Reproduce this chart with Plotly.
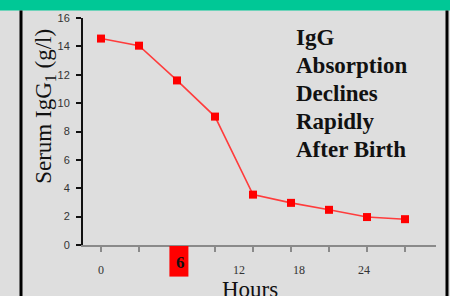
import plotly.graph_objects as go

# Data
sample_index = [0, 1, 2, 3, 4, 5, 6, 7, 8]
serum_igg1 = [14.55, 14.05, 11.6, 9.05, 3.55, 2.97, 2.48, 1.97, 1.82]
hour_labels = ["0", "12", "18", "24"]
hour_label_pos = [0.0, 3.62, 5.22, 6.92]
highlight_label = "6"
highlight_pos = 2.08
y_ticks = [0, 2, 4, 6, 8, 10, 12, 14, 16]
callout_lines = ["IgG", "Absorption", "Declines", "Rapidly", "After Birth"]

W, H = 450, 296
L, R, T, B = 83, 14, 15, 51
pw, ph = W - L - R, H - T - B

def px_x(px):
    return (px - L) / pw

def px_y(py):
    return (H - B - py) / ph

BG = "#dedede"
SERIF = "Liberation Serif, Times New Roman"

fig = go.Figure()
fig.add_trace(go.Scatter(
    x=sample_index, y=serum_igg1, mode="lines+markers",
    line=dict(color="#ff3c3c", width=1.6),
    marker=dict(symbol="square", size=8, color="#ff0000"),
    showlegend=False, hoverinfo="skip"))

fig.update_layout(
    width=W, height=H,
    margin=dict(l=L, r=R, t=T, b=B),
    paper_bgcolor=BG, plot_bgcolor=BG,
    xaxis=dict(range=[-0.474, 8.816], showgrid=False, zeroline=False,
               showline=True, linecolor="#8a8a8a", linewidth=2,
               tickvals=sample_index, ticks="outside", ticklen=5,
               tickwidth=2, tickcolor="#8a8a8a", showticklabels=False),
    yaxis=dict(range=[0, 16], showgrid=False, zeroline=False,
               showline=True, linecolor="#111111", linewidth=2,
               tickvals=y_ticks, ticks="outside", ticklen=5, tickwidth=2,
               tickcolor="#111111", ticklabelstandoff=4,
               tickfont=dict(family="Liberation Sans, Arial", size=11, color="#333333")),
)

shapes = []
shapes.append(dict(type="rect", xref="paper", yref="paper",
                   x0=px_x(-5), x1=px_x(W + 5), y0=px_y(7.5), y1=px_y(-5),
                   fillcolor="#00c896", line=dict(width=0), layer="above"))
for xp in (21, 447):
    shapes.append(dict(type="line", xref="paper", yref="paper",
                       x0=px_x(xp), x1=px_x(xp), y0=px_y(7.5), y1=px_y(H + 5),
                       line=dict(color="#000000", width=3)))
shapes.append(dict(type="rect", xref="x", yref="paper",
                   x0=highlight_pos - 0.28, x1=highlight_pos + 0.22,
                   y0=px_y(277), y1=px_y(246),
                   fillcolor="#ff0000", line=dict(width=0)))
fig.update_layout(shapes=shapes)

ann = []
for lab, pos in zip(hour_labels, hour_label_pos):
    ann.append(dict(x=pos, y=px_y(270), xref="x", yref="paper", text=lab,
                    showarrow=False, xanchor="center", yanchor="middle",
                    font=dict(family=SERIF, size=12, color="#333333")))
ann.append(dict(x=highlight_pos, y=px_y(263), xref="x", yref="paper",
                text="<b>" + highlight_label + "</b>", showarrow=False,
                xanchor="center", yanchor="middle",
                font=dict(family=SERIF, size=17, color="#111111")))
ann.append(dict(x=px_x(250), y=px_y(275), xref="paper", yref="paper",
                text="Hours", showarrow=False, xanchor="center", yanchor="top",
                font=dict(family=SERIF, size=23, color="#111111")))
ann.append(dict(x=px_x(45), y=px_y(105), xref="paper", yref="paper",
                text="Serum IgG<sub>1</sub> (g/l)", textangle=-90, showarrow=False,
                xanchor="center", yanchor="middle",
                font=dict(family=SERIF, size=23, color="#111111")))
for i, line in enumerate(callout_lines):
    ann.append(dict(x=px_x(294), y=px_y(35 + i * 28.2), xref="paper", yref="paper",
                    text="<b>" + line + "</b>", showarrow=False,
                    xanchor="left", yanchor="middle", align="left",
                    font=dict(family=SERIF, size=23, color="#111111")))
fig.update_layout(annotations=ann)

fig.write_html("out.html", config={"displayModeBar": False},
               post_script="document.body.style.margin='0';document.body.style.overflow='hidden';")
